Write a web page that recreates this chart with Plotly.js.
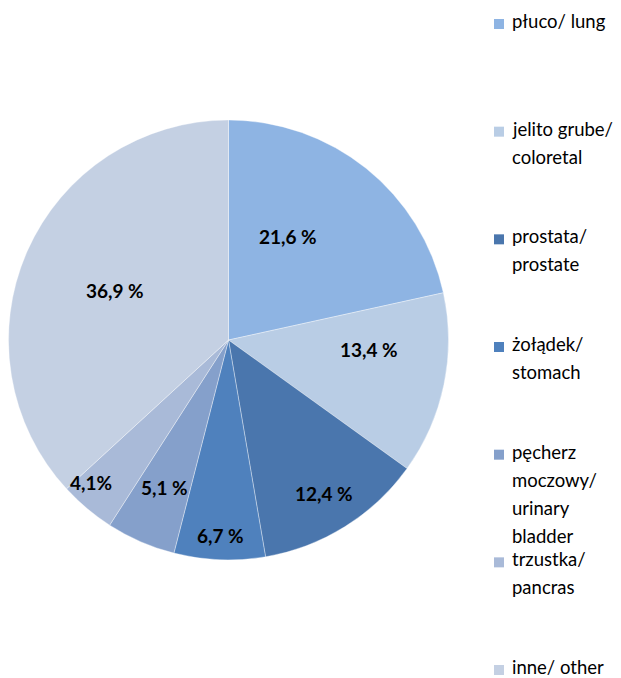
<!DOCTYPE html>
<html>
<head>
<meta charset="utf-8">
<script src="https://cdn.plot.ly/plotly-3.0.1.min.js"></script>
<style>html,body{margin:0;padding:0;background:#fff;}#chart{width:621px;height:678px;}</style>
</head>
<body>
<div id="chart"></div>
<script>
var categories = ["płuco/ lung", "jelito grube/<br>coloretal", "prostata/<br>prostate", "żołądek/<br>stomach", "pęcherz<br>moczowy/<br>urinary<br>bladder", "trzustka/<br>pancras", "inne/ other"];
var values = [21.6, 13.4, 12.4, 6.7, 5.1, 4.1, 36.9];
var valueLabels = ["21,6 %", "13,4 %", "12,4 %", "6,7 %", "5,1 %", "4,1%", "36,9 %"];
var colors = ["#8EB4E3", "#B9CDE5", "#4A76AD", "#4F81BD", "#85A0CB", "#A9BAD8", "#C4D0E3"];
// label placement style (fraction of radius, angular shift in degrees from slice middle)
var labelRadius = [0.545, 0.64, 0.82, 0.89, 0.73, 0.90, 0.565];
var labelShift = [-8.8, -8, 0, 0, 0, 4, 0];

var W = 621, H = 678;
var FONT = "Lato, 'Liberation Sans', sans-serif";
var dom = {x: [8.5 / W, 448.5 / W], y: [1 - 560 / H, 1 - 120 / H]};

var trace = {
  type: "pie",
  values: values,
  labels: categories.map(function(c){return c.replace(/<br>/g, " ");}),
  textinfo: "none",
  marker: {colors: colors, line: {color: "rgba(255,255,255,0.6)", width: 0.6}},
  sort: false,
  direction: "clockwise",
  rotation: 0,
  showlegend: false,
  hoverinfo: "none",
  domain: dom
};

var annotations = [];
var shapes = [];

// value labels placed from the slice angles
var total = values.reduce(function(a, b){return a + b;}, 0);
var cx = (dom.x[0] + dom.x[1]) / 2 * W, cy = (1 - (dom.y[0] + dom.y[1]) / 2) * H;
var R = (dom.x[1] - dom.x[0]) * W / 2;
var cum = 0;
values.forEach(function(v, i){
  var mid = (cum + v / 2) / total * 360 + labelShift[i];
  cum += v;
  var a = mid * Math.PI / 180;
  var px = cx + R * labelRadius[i] * Math.sin(a);
  var py = cy - R * labelRadius[i] * Math.cos(a);
  annotations.push({xref: "paper", yref: "paper", x: px / W, y: 1 - py / H,
    xanchor: "center", yanchor: "middle", showarrow: false, text: "<b>" + valueLabels[i] + "</b>",
    font: {family: FONT, size: 19, color: "#000"}});
});

var firstY = 24, step = 107.67, lineH = 28;
categories.forEach(function(c, i){
  var yc = firstY + i * step;
  shapes.push({type: "rect", xref: "paper", yref: "paper",
    x0: 494 / W, x1: 504 / W, y0: 1 - (yc - 5) / H, y1: 1 - (yc + 5) / H,
    fillcolor: colors[i], line: {width: 0}});
  c.split("<br>").forEach(function(line, j){
    annotations.push({xref: "paper", yref: "paper", x: 510 / W, y: 1 - (yc + j * lineH - 3) / H,
      xanchor: "left", yanchor: "middle", showarrow: false, text: line,
      font: {family: FONT, size: 18.5, color: "#000"}});
  });
});

var layout = {
  width: W, height: H,
  margin: {l: 0, r: 0, t: 0, b: 0},
  paper_bgcolor: "#fff",
  showlegend: false,
  shapes: shapes,
  annotations: annotations
};

Plotly.newPlot("chart", [trace], layout, {staticPlot: true});
</script>
</body>
</html>
